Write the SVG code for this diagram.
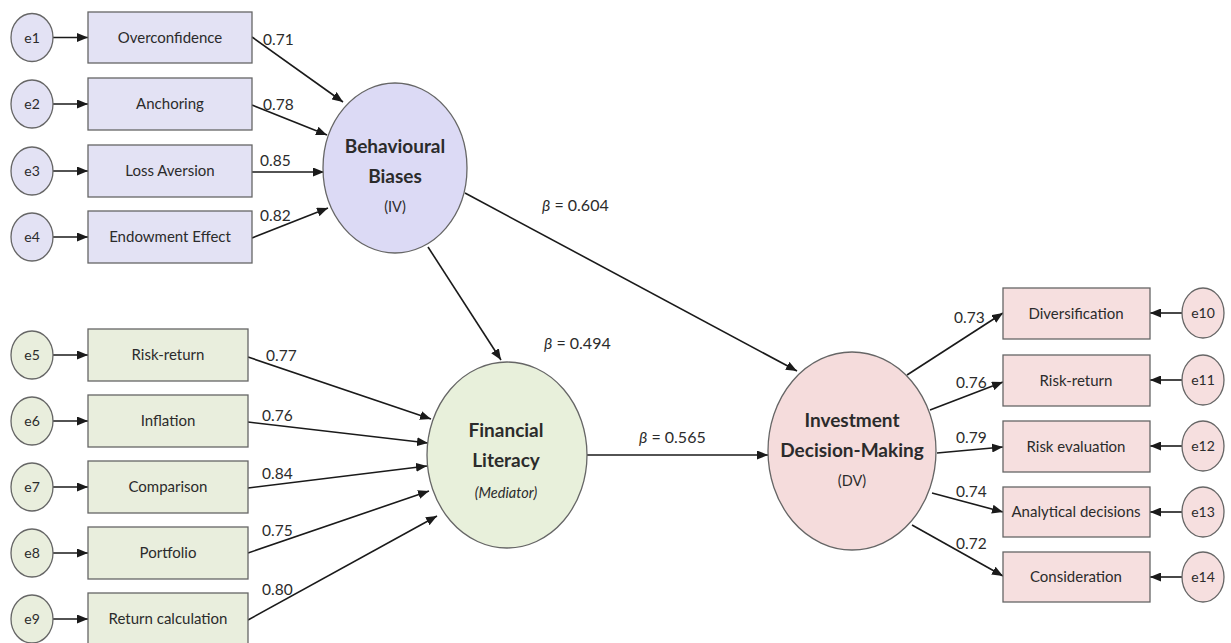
<svg xmlns="http://www.w3.org/2000/svg" width="1231" height="643" viewBox="0 0 1231 643">
<defs>
<marker id="ah" markerUnits="userSpaceOnUse" markerWidth="11" markerHeight="9" refX="11" refY="4.5" orient="auto">
<path d="M0,0 L11,4.5 L0,9 z" fill="#1a1a1a"/>
</marker>
</defs>
<style>
text{font-family:Lato,"Open Sans","Liberation Sans",sans-serif;fill:#2b2b2b;text-anchor:middle}
.bx{font-size:15px}
.ev{font-size:14px}
.ld{font-size:15.5px;text-anchor:start}
.bt{font-size:16px;text-anchor:start}
.t{font-size:19px;font-weight:bold}
.s{font-size:14.5px}
.p{fill:#e3e2f4;stroke:#666;stroke-width:1.3}
.pc{fill:#dcdaf5;stroke:#666;stroke-width:1.3}
.g{fill:#e9eedd;stroke:#666;stroke-width:1.3}
.gc{fill:#e8f0db;stroke:#666;stroke-width:1.3}
.r{fill:#f6dfdf;stroke:#666;stroke-width:1.3}
.rc{fill:#f5dcdc;stroke:#666;stroke-width:1.3}
.c line{stroke:#1a1a1a;stroke-width:1.6;marker-end:url(#ah)}
</style>
<rect width="1231" height="643" fill="#ffffff"/>

<g class="c" id="connectors">
<line x1="53" y1="37.5" x2="88" y2="37.5"/>
<line x1="53" y1="104" x2="88" y2="104"/>
<line x1="53" y1="171" x2="88" y2="171"/>
<line x1="53" y1="237" x2="88" y2="237"/>
<line x1="252" y1="37" x2="343" y2="102"/>
<line x1="252" y1="105" x2="327" y2="135"/>
<line x1="252" y1="172" x2="324" y2="172"/>
<line x1="252" y1="238" x2="328" y2="208"/>
<line x1="53" y1="355" x2="88" y2="355"/>
<line x1="53" y1="421" x2="88" y2="421"/>
<line x1="53" y1="487" x2="88" y2="487"/>
<line x1="53" y1="553" x2="88" y2="553"/>
<line x1="53" y1="619" x2="88" y2="619"/>
<line x1="248" y1="357" x2="431" y2="419"/>
<line x1="248" y1="422" x2="428" y2="443"/>
<line x1="248" y1="488" x2="427" y2="466"/>
<line x1="248" y1="553" x2="429" y2="491"/>
<line x1="248" y1="620" x2="437" y2="516"/>
<line x1="428" y1="247" x2="501" y2="360"/>
<line x1="465" y1="193" x2="797" y2="371"/>
<line x1="587" y1="455" x2="768" y2="455"/>
<line x1="907" y1="375" x2="1003" y2="313"/>
<line x1="930" y1="410" x2="1003" y2="382"/>
<line x1="937" y1="453" x2="1003" y2="447"/>
<line x1="932" y1="493" x2="1003" y2="512"/>
<line x1="912" y1="525" x2="1003" y2="576"/>
<line x1="1182" y1="313" x2="1150" y2="313"/>
<line x1="1182" y1="380" x2="1150" y2="380"/>
<line x1="1182" y1="446" x2="1150" y2="446"/>
<line x1="1182" y1="512" x2="1150" y2="512"/>
<line x1="1182" y1="577" x2="1150" y2="577"/>
</g>

<g id="labels">
<text class="ld" x="263" y="45">0.71</text>
<text class="ld" x="263" y="110">0.78</text>
<text class="ld" x="260" y="166">0.85</text>
<text class="ld" x="260" y="221">0.82</text>
<text class="ld" x="266" y="361">0.77</text>
<text class="ld" x="262" y="421">0.76</text>
<text class="ld" x="262" y="479">0.84</text>
<text class="ld" x="262" y="536">0.75</text>
<text class="ld" x="262" y="595">0.80</text>
<text class="bt" x="542" y="211"><tspan font-style="italic">β</tspan> = 0.604</text>
<text class="bt" x="544" y="349"><tspan font-style="italic">β</tspan> = 0.494</text>
<text class="bt" x="639" y="443"><tspan font-style="italic">β</tspan> = 0.565</text>
<text class="ld" x="954" y="323">0.73</text>
<text class="ld" x="956" y="388">0.76</text>
<text class="ld" x="956" y="443">0.79</text>
<text class="ld" x="956" y="497">0.74</text>
<text class="ld" x="956" y="549">0.72</text>
</g>

<g id="e1"><ellipse class="p" cx="32" cy="37.5" rx="21" ry="24"/><text class="ev" x="32" y="42.5">e1</text></g>
<g id="e2"><ellipse class="p" cx="32" cy="104" rx="21" ry="24"/><text class="ev" x="32" y="109">e2</text></g>
<g id="e3"><ellipse class="p" cx="32" cy="171" rx="21" ry="24"/><text class="ev" x="32" y="176">e3</text></g>
<g id="e4"><ellipse class="p" cx="32" cy="237" rx="21" ry="24"/><text class="ev" x="32" y="242">e4</text></g>

<g id="overconfidence"><rect class="p" x="88" y="12" width="164" height="51"/><text class="bx" x="170" y="42.5">Overconfidence</text></g>
<g id="anchoring"><rect class="p" x="88" y="78" width="164" height="52"/><text class="bx" x="170" y="109">Anchoring</text></g>
<g id="loss-aversion"><rect class="p" x="88" y="145" width="164" height="52"/><text class="bx" x="170" y="176">Loss Aversion</text></g>
<g id="endowment"><rect class="p" x="88" y="211" width="164" height="52"/><text class="bx" x="170" y="242">Endowment Effect</text></g>

<g id="behavioural-biases"><ellipse class="pc" cx="395" cy="168" rx="72" ry="85"/>
<text class="t" x="395" y="153">Behavioural</text>
<text class="t" x="395" y="183">Biases</text>
<text class="s" x="395" y="212">(IV)</text></g>

<g id="e5"><ellipse class="g" cx="32" cy="355" rx="21" ry="24"/><text class="ev" x="32" y="360">e5</text></g>
<g id="e6"><ellipse class="g" cx="32" cy="421" rx="21" ry="24"/><text class="ev" x="32" y="426">e6</text></g>
<g id="e7"><ellipse class="g" cx="32" cy="487" rx="21" ry="24"/><text class="ev" x="32" y="492">e7</text></g>
<g id="e8"><ellipse class="g" cx="32" cy="553" rx="21" ry="24"/><text class="ev" x="32" y="558">e8</text></g>
<g id="e9"><ellipse class="g" cx="32" cy="619" rx="21" ry="24"/><text class="ev" x="32" y="624">e9</text></g>

<g id="risk-return-fl"><rect class="g" x="88" y="329" width="160" height="52"/><text class="bx" x="168" y="360">Risk-return</text></g>
<g id="inflation"><rect class="g" x="88" y="395" width="160" height="52"/><text class="bx" x="168" y="426">Inflation</text></g>
<g id="comparison"><rect class="g" x="88" y="461" width="160" height="52"/><text class="bx" x="168" y="492">Comparison</text></g>
<g id="portfolio"><rect class="g" x="88" y="527" width="160" height="52"/><text class="bx" x="168" y="558">Portfolio</text></g>
<g id="return-calculation"><rect class="g" x="88" y="593" width="160" height="52"/><text class="bx" x="168" y="624">Return calculation</text></g>

<g id="financial-literacy"><ellipse class="gc" cx="507" cy="455" rx="80" ry="93"/>
<text class="t" x="506" y="437">Financial</text>
<text class="t" x="506" y="467">Literacy</text>
<text class="s" x="506" y="498" font-style="italic">(Mediator)</text></g>

<g id="investment-decision-making"><ellipse class="rc" cx="852" cy="451" rx="84" ry="99"/>
<text class="t" x="852" y="427">Investment</text>
<text class="t" x="852" y="457">Decision-Making</text>
<text class="s" x="852" y="486">(DV)</text></g>

<g id="diversification"><rect class="r" x="1003" y="288" width="147" height="51"/><text class="bx" x="1076" y="318.5">Diversification</text></g>
<g id="risk-return-dv"><rect class="r" x="1003" y="355" width="147" height="51"/><text class="bx" x="1076" y="385.5">Risk-return</text></g>
<g id="risk-evaluation"><rect class="r" x="1003" y="421" width="147" height="51"/><text class="bx" x="1076" y="451.5">Risk evaluation</text></g>
<g id="analytical-decisions"><rect class="r" x="1003" y="487" width="147" height="50"/><text class="bx" x="1076" y="517">Analytical decisions</text></g>
<g id="consideration"><rect class="r" x="1003" y="552" width="147" height="50"/><text class="bx" x="1076" y="582">Consideration</text></g>

<g id="e10"><ellipse class="r" cx="1203" cy="313" rx="21" ry="25"/><text class="ev" x="1203" y="318">e10</text></g>
<g id="e11"><ellipse class="r" cx="1203" cy="380" rx="21" ry="25"/><text class="ev" x="1203" y="385">e11</text></g>
<g id="e12"><ellipse class="r" cx="1203" cy="446" rx="21" ry="25"/><text class="ev" x="1203" y="451">e12</text></g>
<g id="e13"><ellipse class="r" cx="1203" cy="512" rx="21" ry="25"/><text class="ev" x="1203" y="517">e13</text></g>
<g id="e14"><ellipse class="r" cx="1203" cy="577" rx="21" ry="25"/><text class="ev" x="1203" y="582">e14</text></g>
</svg>
